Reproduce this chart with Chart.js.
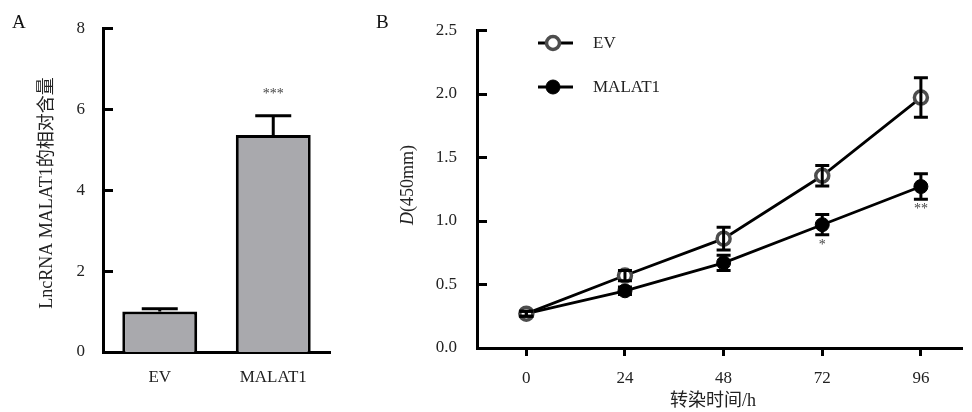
<!DOCTYPE html>
<html>
<head>
<meta charset="utf-8">
<script src="https://cdn.jsdelivr.net/npm/chart.js@4.4.1/dist/chart.umd.min.js"></script>
<style>
  html, body { margin: 0; padding: 0; background: #fff; }
  #wrap { position: relative; width: 972px; height: 412px; overflow: hidden; background: #fff; }
  canvas { position: absolute; top: 0; }
  #cA { left: 0; }
  #cB { left: 370px; }
  .tag { position: absolute; font-family: "Liberation Serif", serif; font-size: 19px; line-height: 1; color: #111; }
</style>
</head>
<body>
<div id="wrap">
  <canvas id="cA" width="340" height="412"></canvas>
  <canvas id="cB" width="602" height="412"></canvas>
  <div class="tag" style="left:12px; top:12px;">A</div>
  <div class="tag" style="left:376px; top:12px;">B</div>
</div>
<script>
// panel A: relative expression
const aCategories = ['EV', 'MALAT1'];
const aMeans = [1.0, 5.36];
const aErrors = [0.07, 0.48];
const aStars = ['', '***'];
const aTicks = [0, 2, 4, 6, 8];

// panel B: growth curve
const bHours = [0, 24, 48, 72, 96];
const bSeries = ['EV', 'MALAT1'];
const evMeans = [0.27, 0.57, 0.86, 1.355, 1.97];
const evErrors = [0.02, 0.04, 0.09, 0.08, 0.155];
const malMeans = [0.27, 0.45, 0.67, 0.97, 1.27];
const malErrors = [0.02, 0.03, 0.06, 0.08, 0.10];
const malStars = ['', '', '', '*', '**'];
const bTicks = [0, 0.5, 1.0, 1.5, 2.0, 2.5];

const FAMILY = '"Liberation Serif", "Noto Sans CJK SC", serif';
const tickFont = { family: FAMILY, size: 17 };
const axisBorder = { display: true, color: '#000', width: 3 };

function rotatedText(ctx, parts, cx, cy) {
  // parts: [[text, fontString], ...] drawn bottom-to-top, centred on cx,cy
  ctx.save();
  ctx.translate(cx, cy);
  ctx.rotate(-Math.PI / 2);
  ctx.fillStyle = '#222';
  ctx.textBaseline = 'middle';
  ctx.textAlign = 'left';
  let total = 0;
  parts.forEach(p => { ctx.font = p[1]; total += ctx.measureText(p[0]).width; });
  let x = -total / 2;
  parts.forEach(p => {
    ctx.font = p[1];
    ctx.fillText(p[0], x, 0);
    x += ctx.measureText(p[0]).width;
  });
  ctx.restore();
}

function inwardTicks(chart) {
  const { ctx, scales: { y }, chartArea } = chart;
  ctx.save();
  ctx.strokeStyle = '#000';
  ctx.lineWidth = 3;
  y.ticks.forEach(t => {
    const py = Math.round(y.getPixelForValue(t.value)) + 0.5;
    ctx.beginPath();
    ctx.moveTo(chartArea.left, py);
    ctx.lineTo(chartArea.left + 10, py);
    ctx.stroke();
  });
  ctx.restore();
}

const panelAPlugin = {
  id: 'panelA',
  afterDatasetsDraw(chart) {
    const { ctx, scales: { x, y } } = chart;
    ctx.save();
    ctx.strokeStyle = '#000';
    ctx.lineWidth = 3;
    aMeans.forEach((m, i) => {
      const px = x.getPixelForValue(i);
      const base = y.getPixelForValue(m);
      const top = y.getPixelForValue(m + aErrors[i]);
      ctx.beginPath();
      ctx.moveTo(px, base);
      ctx.lineTo(px, top);
      ctx.moveTo(px - 18, top);
      ctx.lineTo(px + 18, top);
      ctx.stroke();
      if (aStars[i]) {
        ctx.fillStyle = '#444';
        ctx.font = '14px ' + FAMILY;
        ctx.textAlign = 'center';
        ctx.textBaseline = 'middle';
        ctx.fillText(aStars[i], px, top - 21);
      }
    });
    ctx.restore();
  },
  afterDraw(chart) {
    inwardTicks(chart);
    rotatedText(chart.ctx, [['LncRNA MALAT1的相对含量', '18px ' + FAMILY]], 47, 193);
  }
};

new Chart(document.getElementById('cA'), {
  type: 'bar',
  data: {
    labels: aCategories,
    datasets: [{
      data: aMeans,
      backgroundColor: '#a9a9ad',
      borderColor: '#000',
      borderWidth: 3,
      barPercentage: 0.66,
      categoryPercentage: 1
    }]
  },
  options: {
    responsive: false,
    animation: false,
    devicePixelRatio: 1,
    layout: { padding: { top: 16, right: 10, bottom: 0, left: 0 } },
    plugins: { legend: { display: false }, tooltip: { enabled: false } },
    scales: {
      x: {
        grid: { display: false, drawTicks: false },
        border: axisBorder,
        ticks: { padding: 15, color: '#222', font: tickFont },
        afterFit: s => { s.height = 60; }
      },
      y: {
        min: 0, max: 8,
        afterBuildTicks: s => { s.ticks = aTicks.map(v => ({ value: v })); },
        grid: { display: false, drawTicks: false },
        border: axisBorder,
        ticks: { padding: 18, color: '#222', font: tickFont },
        afterFit: s => { s.width = 103; }
      }
    }
  },
  plugins: [panelAPlugin]
});

const bMeans = [evMeans, malMeans];
const bErrors = [evErrors, malErrors];

const panelBPlugin = {
  id: 'panelB',
  afterDatasetsDraw(chart) {
    const { ctx, scales: { x, y } } = chart;
    ctx.save();
    ctx.strokeStyle = '#000';
    ctx.lineWidth = 3;
    bMeans.forEach((means, s) => {
      means.forEach((m, i) => {
        const px = x.getPixelForValue(bHours[i]);
        const hi = y.getPixelForValue(m + bErrors[s][i]);
        const lo = y.getPixelForValue(m - bErrors[s][i]);
        ctx.beginPath();
        ctx.moveTo(px, lo); ctx.lineTo(px, hi);
        ctx.moveTo(px - 7, hi); ctx.lineTo(px + 7, hi);
        ctx.moveTo(px - 7, lo); ctx.lineTo(px + 7, lo);
        ctx.stroke();
      });
    });
    ctx.fillStyle = '#444';
    ctx.font = '14px ' + FAMILY;
    ctx.textAlign = 'center';
    ctx.textBaseline = 'middle';
    malStars.forEach((st, i) => {
      if (!st) return;
      const px = x.getPixelForValue(bHours[i]);
      const lo = y.getPixelForValue(malMeans[i] - malErrors[i]);
      ctx.fillText(st, px, lo + 10);
    });
    ctx.restore();
  },
  afterDraw(chart) {
    const ctx = chart.ctx;
    inwardTicks(chart);
    // legend
    const ds = chart.data.datasets;
    bSeries.forEach((name, i) => {
      const ly = 43 + i * 44;
      ctx.save();
      ctx.strokeStyle = '#000';
      ctx.lineWidth = 3;
      ctx.beginPath();
      ctx.moveTo(168, ly); ctx.lineTo(203, ly);
      ctx.stroke();
      ctx.beginPath();
      ctx.arc(183, ly, ds[i].pointRadius, 0, Math.PI * 2);
      ctx.fillStyle = ds[i].pointBackgroundColor;
      ctx.fill();
      ctx.lineWidth = ds[i].pointBorderWidth;
      ctx.strokeStyle = ds[i].pointBorderColor;
      ctx.stroke();
      ctx.fillStyle = '#222';
      ctx.font = '17px ' + FAMILY;
      ctx.textAlign = 'left';
      ctx.textBaseline = 'middle';
      ctx.fillText(name, 223, ly + 1);
      ctx.restore();
    });
    rotatedText(ctx, [['D', 'italic 18px ' + FAMILY], ['(450mm)', '18px ' + FAMILY]], 38, 185);
    ctx.save();
    ctx.fillStyle = '#222';
    ctx.font = '18px ' + FAMILY;
    ctx.textAlign = 'center';
    ctx.textBaseline = 'middle';
    ctx.fillText('转染时间/h', 343, 401);
    ctx.restore();
  }
};

new Chart(document.getElementById('cB'), {
  type: 'line',
  data: {
    datasets: [
      {
        label: bSeries[0],
        data: bHours.map((h, i) => ({ x: h, y: evMeans[i] })),
        borderColor: '#000',
        borderWidth: 2.8,
        pointRadius: 6.5,
        pointBorderWidth: 3.5,
        pointBorderColor: '#4d4d4d',
        pointBackgroundColor: '#fff',
        tension: 0
      },
      {
        label: bSeries[1],
        data: bHours.map((h, i) => ({ x: h, y: malMeans[i] })),
        borderColor: '#000',
        borderWidth: 2.8,
        pointRadius: 7,
        pointBorderWidth: 1,
        pointBorderColor: '#000',
        pointBackgroundColor: '#000',
        tension: 0
      }
    ]
  },
  options: {
    responsive: false,
    animation: false,
    devicePixelRatio: 1,
    layout: { padding: { top: 12, right: 0, bottom: 0, left: 0 } },
    plugins: { legend: { display: false }, tooltip: { enabled: false } },
    scales: {
      x: {
        type: 'linear',
        min: -12, max: 106,
        afterBuildTicks: s => { s.ticks = bHours.map(v => ({ value: v })); },
        grid: { display: true, drawOnChartArea: false, drawTicks: true, tickLength: 8, tickWidth: 3, tickColor: '#000' },
        border: axisBorder,
        ticks: { padding: 12, color: '#222', font: tickFont },
        afterFit: s => { s.height = 64; }
      },
      y: {
        min: 0, max: 2.5,
        afterBuildTicks: s => { s.ticks = bTicks.map(v => ({ value: v })); },
        grid: { display: false, drawTicks: false },
        border: axisBorder,
        ticks: { padding: 20, color: '#222', font: tickFont, callback: v => Number(v).toFixed(1) },
        afterFit: s => { s.width = 107; }
      }
    }
  },
  plugins: [panelBPlugin]
});
</script>
</body>
</html>
